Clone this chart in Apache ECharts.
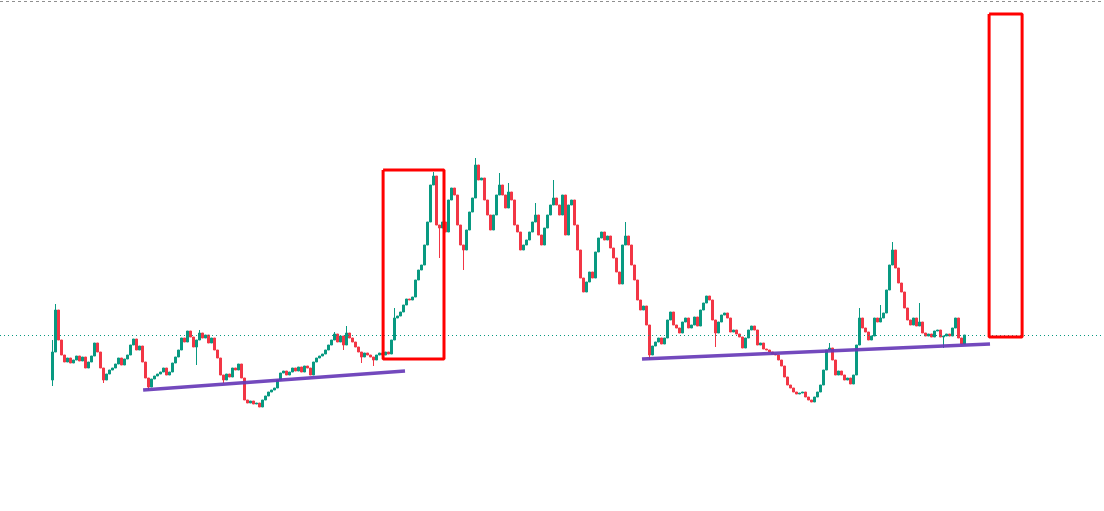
<!DOCTYPE html>
<html>
<head>
<meta charset="utf-8">
<script src="https://cdn.jsdelivr.net/npm/echarts@6/dist/echarts.min.js"></script>
<style>
html,body{margin:0;padding:0;background:#ffffff;}
#chart{width:1104px;height:511px;}
</style>
</head>
<body>
<div id="chart"></div>
<script>
// ---- data (price units, no axis labels shown) ----
const firstOpen = 131;
const closes = [
159,201,171,156,149,153,148,151,155,150,
154,143,149,155,168,159,143,131,137,141,
143,147,153,146,152,156,166,172,161,165,
149,133,124,132,135,137,139,143,136,139,
148,154,161,173,169,180,174,164,171,178,
173,176,168,173,161,153,136,131,137,134,
143,141,147,133,111,108,110,107,108,104,
111,115,119,121,123,131,138,140,136,139,
143,140,144,139,145,143,136,149,153,155,
157,161,166,171,177,169,175,166,178,173,
169,164,159,154,158,156,154,151,156,158,
156,159,157,171,193,195,199,206,212,211,
214,231,241,246,266,289,326,335,286,283,
289,279,311,323,316,286,266,261,281,299,
313,346,331,333,311,296,281,296,316,326,
316,303,319,311,286,279,261,266,271,279,
289,296,276,266,283,296,306,313,306,296,
316,276,306,311,286,261,233,219,229,239,
233,259,273,279,271,275,263,253,239,227,
266,275,266,246,231,211,201,205,186,156,
165,169,173,167,173,191,199,186,183,178,
189,193,183,186,194,185,201,208,215,211,
191,178,189,196,198,193,179,181,177,174,
163,173,181,185,181,166,168,162,161,159,
157,156,151,145,134,126,123,119,117,118,
119,114,111,109,114,119,126,141,161,163,
151,136,140,136,131,133,127,136,166,193,
183,179,171,175,193,189,193,198,221,246,
261,243,228,219,203,191,186,193,185,189,
178,175,177,174,180,181,174,175,177,175,
183,193,173,167,176
];
// notable wicks: candle index -> extreme price
const highWicks = {0:171,1:207,49:181,94:179,98:185,114:203,127:339,141:353,149:338,152:328,161:308,167:331,191:289,259:168,269:203,276:206,280:269,289:208};
const lowWicks = {0:125,17:128,32:121,48:146,57:128,97:161,103:148,107:145,129:253,137:241,199:151,221:164,268:153,297:163};

const lastPrice = 176;      // dotted price line
const topLineValue = 510;   // dashed pane border

// drawings, in [candle slot, price]
const box1 = [[127.2,341],[147.5,341],[147.5,152],[127.2,152],[127.2,341]];
const box2 = [[329.2,497],[340.2,497],[340.2,174],[329.2,174],[329.2,497]];
const trend1 = [[47.2,121],[134.5,140]];
const trend2 = [[213.5,152],[329.5,167]];

const totalSlots = 368;
const firstSlot = 17;

// ---- build ----
const categories = Array.from({length: totalSlots}, (_, i) => String(i));
const candleData = categories.map(() => '-');
closes.forEach((c, i) => {
  const o = i === 0 ? firstOpen : closes[i - 1];
  let hi = Math.max(o, c), lo = Math.min(o, c);
  if (highWicks[i] !== undefined) hi = Math.max(hi, highWicks[i]);
  if (lowWicks[i] !== undefined) lo = Math.min(lo, lowWicks[i]);
  candleData[firstSlot + i] = [o, c, lo, hi];
});

const chart = echarts.init(document.getElementById('chart'));
const drawLine = (data, color, width) => ({
  type: 'line', xAxisIndex: 1, yAxisIndex: 0, data: data,
  symbol: 'none', showSymbol: false, silent: true, animation: false,
  lineStyle: {color: color, width: width}, z: 5
});
chart.setOption({
  animation: false,
  backgroundColor: '#ffffff',
  grid: {left: 0, right: 0, top: 0, bottom: 0},
  xAxis: [
    {type: 'category', data: categories, show: false, boundaryGap: true},
    {type: 'value', min: -0.5, max: totalSlots - 0.5, show: false}
  ],
  yAxis: {type: 'value', min: 0, max: 511, show: false, splitLine: {show: false}},
  series: [
    {
      type: 'candlestick',
      data: candleData,
      barWidth: 2,
      itemStyle: {
        color: '#089981', color0: '#F23645',
        borderColor: '#089981', borderColor0: '#F23645',
        borderWidth: 1
      },
      markLine: {
        silent: true, symbol: ['none', 'none'], label: {show: false}, animation: false,
        data: [
          {yAxis: lastPrice, lineStyle: {color: '#089981', type: [1, 3], width: 1}},
          {yAxis: topLineValue, lineStyle: {color: '#8f8f8f', type: [3, 3], width: 1}}
        ]
      }
    },
    drawLine(box1, '#ff0000', 3),
    drawLine(box2, '#ff0000', 3),
    drawLine(trend1, 'rgba(103,58,183,0.92)', 3.5),
    drawLine(trend2, 'rgba(103,58,183,0.92)', 3.5)
  ]
});
</script>
</body>
</html>
